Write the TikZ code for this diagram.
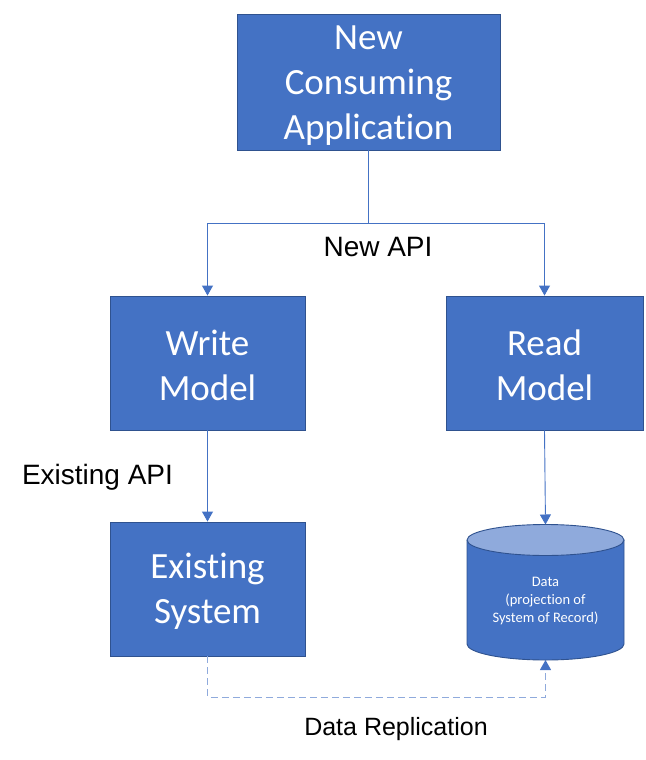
\documentclass[tikz,border=0pt]{standalone}
\usepackage{fontspec}
\setmainfont{Carlito}[Ligatures=NoCommon]
\newfontfamily\labelfont{Liberation Sans}
\usetikzlibrary{arrows.meta,positioning,calc}
\definecolor{boxfill}{HTML}{4472C4}
\definecolor{boxline}{HTML}{2F528F}
\definecolor{cyltop}{HTML}{8FAADC}
\definecolor{connline}{HTML}{4472C4}
\newcommand\lowtext[2]{\raisebox{-#1}[\height][\depth]{\setlength\tabcolsep{0pt}\begin{tabular}{c}#2\end{tabular}}}
\tikzset{
  bluebox/.style={draw=boxline, line width=0.9pt, fill=boxfill, text=white,
    align=center, inner sep=0pt, font=\fontsize{37}{45}\selectfont},
  conn/.style={draw=connline, line width=0.9pt, -{Triangle[length=10pt,width=11pt]}},
  dashconn/.style={draw=cyltop, line width=1pt, dash pattern=on 7pt off 4pt,
    -{Triangle[length=10pt,width=11pt,color=connline]}},
  lbl/.style={font=\labelfont\fontsize{25}{30}\selectfont, text=black, inner sep=0pt},
  biglbl/.style={lbl, font=\labelfont\fontsize{28}{32}\selectfont},
  cyltext/.style={text=white, align=center, inner sep=0pt, font=\fontsize{14.5}{18}\selectfont},
}
\begin{document}
\begin{tikzpicture}[x=1pt,y=-1pt]
\useasboundingbox (0,0) rectangle (645,760);
% boxes
\node[bluebox, minimum width=263pt, minimum height=136pt] (app) at (368.5,82) {\lowtext{3pt}{New\\Consuming\\Application}};
\node[bluebox, minimum width=195pt, minimum height=134pt] (write) at (207.5,363) {\lowtext{5.5pt}{Write\\Model}};
\node[bluebox, minimum width=197pt, minimum height=134pt] (read) at (544.5,363) {\lowtext{5.5pt}{Read\\Model}};
\node[bluebox, minimum width=195pt, minimum height=134pt] (exist) at (207.5,589) {\lowtext{3pt}{Existing\\System}};
% cylinder
\coordinate (dbtop) at (545.5,524.5);
\coordinate (dbbot) at (545.5,660);
\fill[boxfill] (467,540) -- (467,644) arc[start angle=180, end angle=360, x radius=78.5pt, y radius=16pt] -- (624,540) -- cycle;
\draw[boxline, line width=0.9pt] (467,540) -- (467,644) arc[start angle=180, end angle=360, x radius=78.5pt, y radius=16pt] -- (624,540);
\draw[boxline, line width=0.9pt, fill=cyltop] (545.5,540) ellipse[x radius=78.5pt, y radius=15.5pt];
\node[cyltext] (data) at (545.5,601) {Data\\(projection of\\System of Record)};
% connectors
\coordinate (fork) at (368.5,223);
\draw[conn] (app.south) -- (fork) -| (write.north);
\draw[conn] (fork) -| (read.north);
\draw[conn] (write.south) -- (exist.north);
\draw[conn] (read.south) -- (dbtop);
\coordinate (reprow) at (207.5,697);
\draw[dashconn] (exist.south) -- (reprow) -| (dbbot);
% labels
\node[biglbl] (newapi) at (378,247) {New API};
\node[biglbl] (existapi) at (97.5,477) {Existing API};
\node[lbl] (repl) at (396,729) {Data Replication};
\end{tikzpicture}
\end{document}
